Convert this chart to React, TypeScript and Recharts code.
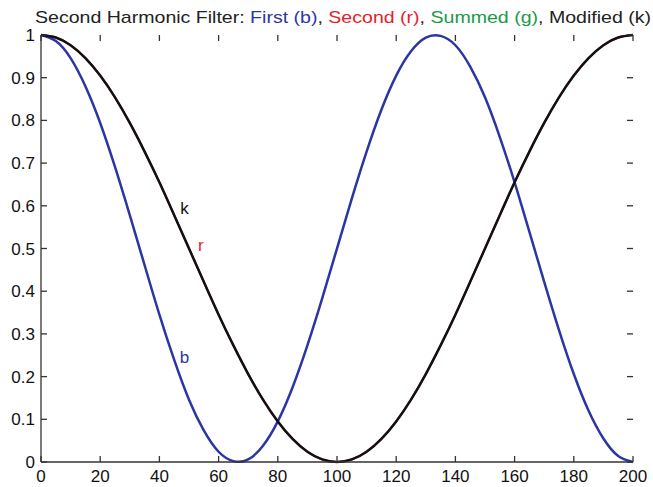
import { ComposedChart, Line, Scatter, XAxis, YAxis, ReferenceDot } from "recharts";

// sample positions along the x axis
const xs = [0, 5, 10, 15, 20, 25, 30, 35, 40, 45, 50, 55, 60, 65, 70, 75, 80, 85, 90, 95, 100, 105, 110, 115, 120, 125, 130, 135, 140, 145, 150, 155, 160, 165, 170, 175, 180, 185, 190, 195, 200];

// First (b)
const first = [1.0, 0.986, 0.946, 0.88, 0.794, 0.691, 0.578, 0.461, 0.345, 0.239, 0.146, 0.074, 0.024, 0.002, 0.006, 0.038, 0.095, 0.175, 0.273, 0.383, 0.5, 0.617, 0.727, 0.825, 0.905, 0.962, 0.994, 0.998, 0.976, 0.926, 0.854, 0.761, 0.655, 0.539, 0.422, 0.309, 0.206, 0.12, 0.055, 0.014, 0.0];

// Modified (k); Second (r) runs underneath it
const modified = [1.0, 0.994, 0.976, 0.946, 0.905, 0.854, 0.794, 0.727, 0.655, 0.578, 0.5, 0.422, 0.345, 0.273, 0.206, 0.146, 0.095, 0.054, 0.024, 0.006, 0.0, 0.006, 0.024, 0.054, 0.095, 0.146, 0.206, 0.273, 0.345, 0.422, 0.5, 0.578, 0.655, 0.727, 0.794, 0.854, 0.905, 0.946, 0.976, 0.994, 1.0];
const second = modified;

const xTicks = [0, 20, 40, 60, 80, 100, 120, 140, 160, 180, 200];
const yTicks = [0, 0.1, 0.2, 0.3, 0.4, 0.5, 0.6, 0.7, 0.8, 0.9, 1];

const data = xs.map((x, i) => ({ x, first: first[i], second: second[i], modified: modified[i] }));

// tick mark anchors on the four sides of the box
const bottomMarks = xTicks.map((t) => ({ x: t, y: 0 }));
const topMarks = xTicks.map((t) => ({ x: t, y: 1 }));
const leftMarks = yTicks.map((t) => ({ x: 0, y: t }));
const rightMarks = yTicks.map((t) => ({ x: 200, y: t }));

const BLUE = "#2b36a3";
const RED = "#e8202a";
const GREEN = "#1a9a4a";
const BLACK = "#111";
const AXIS = "#333";
const FONT = "'Liberation Sans', Arial, sans-serif";

const TICK = 6; // inward tick length, px
const fmtY = (v: number) => (v === 0 || v === 1 ? String(v) : v.toFixed(1));
const tickStyle = { fontSize: 17, fill: "#111", fontFamily: FONT };
const tl = { stroke: AXIS, strokeWidth: 1.3 };
const axisLine = { stroke: AXIS, strokeWidth: 1.3 };

// ticks point into the plot, matlab style
const markUp = ({ cx, cy }: any) => <line x1={cx} x2={cx} y1={cy} y2={cy - TICK} {...tl} />;
const markDown = ({ cx, cy }: any) => <line x1={cx} x2={cx} y1={cy} y2={cy + TICK} {...tl} />;
const markRight = ({ cx, cy }: any) => <line x1={cx} x2={cx + TICK} y1={cy} y2={cy} {...tl} />;
const markLeft = ({ cx, cy }: any) => <line x1={cx} x2={cx - TICK} y1={cy} y2={cy} {...tl} />;

export default function App() {
  return (
    <div style={{ position: "absolute", left: 0, top: 0, width: 653, height: 487, background: "#fff" }}>
      <div style={{ position: "absolute", left: 343, top: 8, fontFamily: FONT, fontSize: 17, color: "#222", whiteSpace: "nowrap",
        transform: "translateX(-50%) scaleX(1.15)" }}>
        Second Harmonic Filter: <span style={{ color: BLUE }}>First (b)</span>, <span style={{ color: RED }}>Second (r)</span>, <span style={{ color: GREEN }}>Summed (g)</span>, Modified (k)
      </div>
      <ComposedChart width={653} height={487} data={data} margin={{ top: 35, right: 20, bottom: 0, left: 0 }}>
        <XAxis dataKey="x" type="number" domain={[0, 200]} ticks={xTicks} interval={0} height={25}
          tickSize={0} tickMargin={8} tickLine={false} tick={tickStyle} axisLine={axisLine} />
        <XAxis xAxisId="top" dataKey="x" type="number" domain={[0, 200]} orientation="top" height={0}
          tick={false} tickLine={false} axisLine={axisLine} />
        <YAxis type="number" domain={[0, 1]} ticks={yTicks} interval={0} width={41}
          tickSize={0} tickMargin={6} tickLine={false} tick={tickStyle} tickFormatter={fmtY} axisLine={axisLine} />
        <YAxis yAxisId="right" type="number" domain={[0, 1]} orientation="right" width={0}
          tick={false} tickLine={false} axisLine={axisLine} />
        <Scatter data={bottomMarks} dataKey="y" shape={markUp} isAnimationActive={false} />
        <Scatter data={topMarks} dataKey="y" shape={markDown} isAnimationActive={false} />
        <Scatter data={leftMarks} dataKey="y" shape={markRight} isAnimationActive={false} />
        <Scatter data={rightMarks} dataKey="y" shape={markLeft} isAnimationActive={false} />
        <Line dataKey="second" type="natural" stroke={RED} strokeWidth={2} dot={false} isAnimationActive={false} />
        <Line dataKey="first" type="natural" stroke={BLUE} strokeWidth={2.5} dot={false} isAnimationActive={false} />
        <Line dataKey="modified" type="natural" stroke={BLACK} strokeWidth={2.5} dot={false} isAnimationActive={false} />
        <ReferenceDot x={48.5} y={0.595} r={0} fill="none" stroke="none"
          label={{ value: "k", position: "center", fill: BLACK, fontSize: 17, fontFamily: FONT }} />
        <ReferenceDot x={54} y={0.508} r={0} fill="none" stroke="none"
          label={{ value: "r", position: "center", fill: RED, fontSize: 17, fontFamily: FONT }} />
        <ReferenceDot x={48.5} y={0.246} r={0} fill="none" stroke="none"
          label={{ value: "b", position: "center", fill: BLUE, fontSize: 17, fontFamily: FONT }} />
      </ComposedChart>
    </div>
  );
}
